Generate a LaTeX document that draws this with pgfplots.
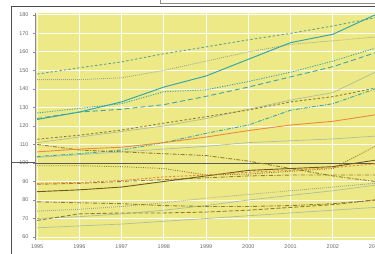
\documentclass[border=0pt]{standalone}
\usepackage{fontspec}
\setmainfont{Liberation Sans}
\usepackage{pgfplots}
\pgfplotsset{compat=1.18}
\definecolor{bgy}{RGB}{238,233,135}
\definecolor{tealc}{RGB}{55,168,172}
\definecolor{tealdash}{RGB}{95,165,145}
\definecolor{lgray}{RGB}{170,192,158}
\definecolor{olive}{RGB}{145,125,45}
\definecolor{darkolive}{RGB}{105,92,30}
\definecolor{orangec}{RGB}{232,140,62}
\definecolor{labgray}{RGB}{105,105,105}
\begin{document}
\begin{tikzpicture}
\useasboundingbox (0bp,0bp) rectangle (375bp,254bp);
\clip (0bp,0bp) rectangle (375bp,254bp);
\fill[white] (0bp,0bp) rectangle (375bp,254bp);
\draw[line width=0.9bp, color=black!70] (11bp,0bp) -- (11bp,248bp) -- (380bp,248bp);
\draw[line width=0.7bp, color=black!45, fill=white] (160bp,251bp) rectangle (390bp,262bp);
\draw[color=black!65, line width=0.9bp] (11bp,91.3bp) -- (35bp,91.3bp);
\begin{axis}[
  at={(35bp,14bp)}, anchor=south west,
  scale only axis, width=344.3bp, height=227bp,
  xmin=1994.95, xmax=2003.1, ymin=58.4, ymax=181,
  axis background/.style={fill=bgy},
  xtick={1995,...,2003}, ytick={60,70,...,180},
  grid=major, grid style={white, line width=0.8bp},
  axis x line*=bottom, axis y line*=left,
  x axis line style={draw=none},
  y axis line style={color=black!45, line width=0.6bp},
  tick style={color=black!45, line width=0.5bp},
  xtick style={draw=none},
  tick align=outside, major tick length=2bp,
  ticklabel style={font=\fontsize{5.5}{6}\selectfont, color=labgray},
  /pgf/number format/1000 sep={},
  /pgf/number format/assume math mode=true,
  yticklabel style={xshift=-1bp},
  xticklabel style={yshift=1bp},
  clip=true,
  every axis plot/.append style={line width=0.8bp, mark=none},
]
\addplot[color=black!65, line width=0.9bp] coordinates {(1994.9,100) (2003.2,100)};
\addplot[lgray, line width=0.7bp] coordinates {(1995,111) (1996,114) (1997,117) (1998,120) (1999,124) (2000,129) (2001,134) (2002,138) (2003,149)};
\addplot[lgray, line width=0.7bp] coordinates {(1995,103) (1996,104.5) (1997,106) (1998,107.5) (1999,109) (2000,111) (2001,112) (2002,113) (2003,114.5)};
\addplot[lgray, line width=0.7bp] coordinates {(1995,70) (1996,71) (1997,72.5) (1998,74.5) (1999,77) (2000,80) (2001,82.5) (2002,85) (2003,88)};
\addplot[lgray, line width=0.7bp] coordinates {(1995,65) (1996,66) (1997,67) (1998,68.5) (1999,70) (2000,71.5) (2001,73) (2002,74.5) (2003,76)};
\addplot[lgray!80!black!85, dash pattern=on 0.9bp off 1.1bp, line width=0.9bp] coordinates {(1995,145) (1996,145) (1997,146) (1998,150) (1999,155) (2000,160) (2001,164) (2002,166) (2003,168)};
\addplot[lgray!80!black!85, dash pattern=on 0.9bp off 1.1bp, line width=0.9bp] coordinates {(1995,74) (1996,75) (1997,76.5) (1998,78.5) (1999,81) (2000,83) (2001,85) (2002,87) (2003,89)};
\addplot[tealdash, dash pattern=on 2.5bp off 2bp, line width=0.9bp] coordinates {(1995,148) (1996,151.4) (1997,154.6) (1998,159) (1999,162.7) (2000,166.5) (2001,170) (2002,174) (2003,178.4)};
\addplot[tealc, dash pattern=on 1.2bp off 1.3bp, line width=0.9bp] coordinates {(1995,127) (1996,129.5) (1997,132) (1998,138.5) (1999,139.5) (2000,144) (2001,149) (2002,155) (2003,162)};
\addplot[tealc, dash pattern=on 5bp off 3bp, line width=0.9bp] coordinates {(1995,124) (1996,127.5) (1997,129) (1998,131.5) (1999,136) (2000,141) (2001,146.5) (2002,152) (2003,159.5)};
\addplot[tealc, dash pattern=on 4bp off 1.5bp on 1bp off 1.5bp, line width=0.9bp] coordinates {(1995,103.5) (1996,105) (1997,107) (1998,111) (1999,116) (2000,120.5) (2001,128.5) (2002,132) (2003,140)};
\addplot[tealc, line width=1bp] coordinates {(1995,123.5) (1996,127.5) (1997,133) (1998,141) (1999,147) (2000,156) (2001,165) (2002,169.5) (2003,180)};
\addplot[olive, dash pattern=on 2.5bp off 2bp, line width=0.9bp] coordinates {(1995,112.8) (1996,115) (1997,117.8) (1998,121.5) (1999,125) (2000,128.6) (2001,133) (2002,135.8) (2003,140.4)};
\addplot[olive, dash pattern=on 4bp off 1.5bp on 1bp off 1.5bp, line width=0.9bp] coordinates {(1995,110) (1996,107) (1997,106) (1998,105) (1999,104) (2000,101) (2001,97) (2002,93) (2003,90)};
\addplot[olive, dash pattern=on 1bp off 1.3bp, line width=0.9bp] coordinates {(1995,98.5) (1996,98.5) (1997,98) (1998,97) (1999,93.5) (2000,94) (2001,95.5) (2002,97) (2003,109)};
\addplot[olive, dash pattern=on 4bp off 1.5bp on 1bp off 1.5bp, line width=0.9bp] coordinates {(1995,88.5) (1996,89) (1997,90) (1998,91) (1999,92) (2000,93) (2001,93.5) (2002,93.5) (2003,93.5)};
\addplot[olive, dash pattern=on 4bp off 1.5bp on 1bp off 1.5bp, line width=0.9bp] coordinates {(1995,79) (1996,78.5) (1997,78) (1998,77) (1999,76.5) (2000,76.5) (2001,77) (2002,78) (2003,80)};
\addplot[olive, dash pattern=on 4bp off 2bp, line width=0.9bp] coordinates {(1995,69) (1996,72.5) (1997,73) (1998,73) (1999,73.5) (2000,74.5) (2001,76) (2002,77.5) (2003,80)};
\addplot[darkolive, line width=0.9bp] coordinates {(1995,84.5) (1996,85.5) (1997,87) (1998,90) (1999,93) (2000,96) (2001,97) (2002,98) (2003,101.5)};
\addplot[orangec, dash pattern=on 2.5bp off 1.5bp, line width=0.9bp] coordinates {(1995,89) (1996,89.5) (1997,90.5) (1998,92.5) (1999,93.5) (2000,95) (2001,96) (2002,97.5) (2003,99.5)};
\addplot[orangec, line width=0.9bp] coordinates {(1995,106) (1996,107.5) (1997,108.5) (1998,111) (1999,114) (2000,117.5) (2001,120.5) (2002,122.5) (2003,126)};
\end{axis}
\end{tikzpicture}
\end{document}
